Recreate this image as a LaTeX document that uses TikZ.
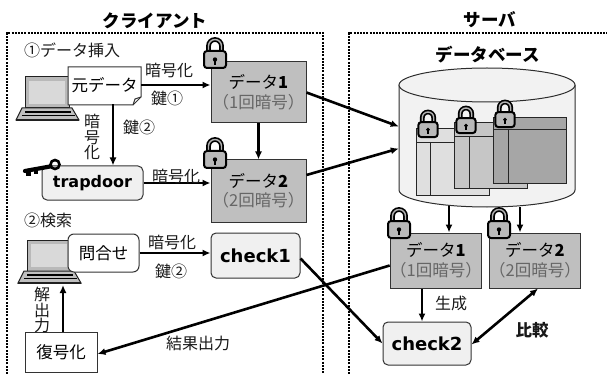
\documentclass[tikz,border=0pt]{standalone}
\usepackage{fontspec}
\setmainfont{Noto Sans CJK JP}
\newfontfamily\dvs{DejaVu Sans}
\usetikzlibrary{arrows.meta}

\tikzset{
  frame/.style={line width=1.2pt, dash pattern=on 2pt off 1.2pt},
  arr/.style={line width=2.6pt, -{Latex[length=8pt,width=7pt]}},
  dblarr/.style={line width=2.6pt, {Latex[length=8pt,width=7pt]}-{Latex[length=8pt,width=7pt]}},
  lbl/.style={font=\fontsize{16}{15.5}\selectfont, inner sep=0, text=black!90},
  head/.style={font=\fontsize{17.5}{19}\selectfont\bfseries, inner sep=0},
  databox/.style={draw=gray!40!black, fill=gray!50, line width=1pt, align=center,
    inner sep=0, font=\fontsize{16.5}{19.5}\selectfont},
  rbox/.style={draw=gray!40!black, fill=gray!12, rounded corners=5pt, line width=1pt, inner sep=0},
  wbox/.style={draw=gray!40!black, fill=white, line width=1pt, inner sep=0,
    font=\fontsize{16.5}{17}\selectfont},
  chk/.style={rbox, font=\dvs\bfseries\fontsize{18}{20}\selectfont},
  pics/padlock/.style={code={
    \draw[line width=4.8pt] (-6.5,0) -- (-6.5,-6) arc[start angle=180,end angle=360,radius=6.5] -- (6.5,0);
    \draw[line width=1.4pt, gray!60] (-6.5,0) -- (-6.5,-6) arc[start angle=180,end angle=360,radius=6.5] -- (6.5,0);
    \draw[fill=gray!55, line width=2pt, rounded corners=3pt] (-11,-1) rectangle (11,16);
    \fill (0,7.5) circle (2.2); \fill (-1.1,7.5) rectangle (1.1,13);
  }},
  pics/laptop/.style={code={
    \draw[fill=gray!55, draw=gray!25!black, line width=1pt] (0,0) rectangle (44,31);
    \fill[gray!30] (4,4) rectangle (40,27);
    \draw[fill=gray!50, draw=gray!25!black, line width=1pt] (-3,31) -- (47,31) -- (54,43) -- (-9,43) -- cycle;
    \draw[line width=1.3pt] (0,35) -- (46,35);
    \draw[line width=1.3pt] (-3,38.5) -- (50,38.5);
    \fill[gray!25!black] (-9,42) rectangle (54,44);
  }}
}

\begin{document}
\begin{tikzpicture}[x=1pt,y=-1pt]
\useasboundingbox (0,0) rectangle (607,374);

% client and server areas
\draw[frame] (7,374) -- (7,33) -- (323,33) -- (323,374);
\draw[frame] (349,374) -- (349,33) -- (607,33);
\node[head] (tcl) at (155,21) {クライアント};
\node[head] (tsv) at (490,20) {サーバ};
\node[head] (tdb) at (488,55) {データベース};

\node[lbl, anchor=west] (s1) at (24,50) {①データ挿入};
\node[lbl, anchor=west] (s2) at (24,220) {②検索};

% laptops
\pic at (25,77) {laptop};
\pic at (27,240) {laptop};
\coordinate (lap2) at (63,285);

% original data sheet with folded corner
\draw[fill=white, draw=gray!40!black, line width=1pt]
  (68,67) -- (141,67) -- (141,97) -- (133,105) -- (68,105) -- cycle;
\draw[draw=gray!40!black, line width=1pt] (133,105) -- (135,99) -- (141,97);
\node[font=\fontsize{16.5}{17}\selectfont, minimum width=73pt, minimum height=38pt, inner sep=0]
  (doc) at (104.5,85) {元データ};

% client side boxes
\node[databox, minimum width=95pt, minimum height=61pt] (data1) at (258.5,92.5)
  {データ\textbf{1}\\{\color{gray!80!black}（1回暗号）}};
\node[databox, minimum width=95pt, minimum height=62pt] (data2) at (258.5,191)
  {データ\textbf{2}\\{\color{gray!80!black}（2回暗号）}};
\node[rbox, font=\dvs\bfseries\fontsize{16}{18}\selectfont, minimum width=101pt, minimum height=34pt]
  (trap) at (92.5,183) {trapdoor};
\node[wbox, rounded corners=6pt, minimum width=71pt, minimum height=38pt] (query) at (103.5,253) {問合せ};
\node[chk, minimum width=89pt, minimum height=45pt] (check1) at (255.5,255.5) {check1};
\node[wbox, minimum width=72pt, minimum height=40pt] (dec) at (61,352) {復号化};

% key of the trapdoor
\draw[line width=2.6pt] (55,164.5) circle (4.5);
\draw[line width=4.2pt, line cap=round] (50,166.5) -- (25,171);
\fill (26,169) rectangle (31,176);
\fill (34,168) rectangle (37.5,174);

% database cylinder
\draw[fill=gray!10, draw=gray!35!black, line width=1pt]
  (399,85) -- (399,190) arc[start angle=180,end angle=0,x radius=88,y radius=17] -- (575,85);
\draw[fill=gray!10, draw=gray!35!black, line width=1pt] (487,85) ellipse [x radius=88, y radius=17];
\node[minimum width=176pt, minimum height=139pt, inner sep=0] (db) at (487,137.5) {};

% stored tables
\draw[fill=gray!25, draw=gray!30!black, line width=0.8pt] (416,128) rectangle (489,195);
\draw[gray!30!black, line width=0.8pt] (416,142) -- (489,142) (430,142) -- (430,195);
\draw[fill=gray!45, draw=gray!30!black, line width=0.8pt] (454,122) rectangle (527,188);
\draw[gray!30!black, line width=0.8pt] (454,136) -- (527,136) (469,136) -- (469,188);
\draw[fill=gray!70, draw=gray!30!black, line width=0.8pt] (493,117) rectangle (566,183);
\draw[gray!30!black, line width=0.8pt] (493,129) -- (566,129) (508,129) -- (508,183);
\pic[scale=0.88] at (428,123) {padlock};
\pic[scale=0.88] at (466,119) {padlock};
\pic[scale=0.88] at (505,113) {padlock};

% server side boxes
\node[databox, minimum width=82pt, minimum height=55pt] (sdata1) at (436,260.5)
  {データ\textbf{1}\\{\color{gray!80!black}（1回暗号）}};
\node[databox, minimum width=84pt, minimum height=55pt] (sdata2) at (535,260.5)
  {データ\textbf{2}\\{\color{gray!80!black}（2回暗号）}};
\node[chk, minimum width=88pt, minimum height=43pt] (check2) at (427,343.5) {check2};

% locks on encrypted data
\pic at (215,52) {padlock};
\pic at (215,152) {padlock};
\pic at (399,222) {padlock};
\pic at (499,222) {padlock};

% insertion flow
\draw[arr] (doc.east) -- (doc.east -| data1.west);
\node[lbl] (l1) at (169,70) {暗号化};
\node[lbl] (l2) at (167,98) {鍵①};
\draw[arr] ([xshift=8.5pt]doc.south) -- ([xshift=8.5pt]doc.south |- trap.north);
\node[lbl, align=center] (l3) at (92,137) {暗\\号\\化};
\node[lbl] (l4) at (139,127) {鍵②};
\draw[arr] (trap.east) -- (trap.east -| data2.west);
\node[lbl] (l5) at (176,176) {暗号化};
\draw[arr] (data1.south) -- (data2.north);
\draw[arr] (data1.east) -- ([yshift=11pt]db.west);
\draw[arr] ([yshift=16pt]data2.east) -- ([yshift=-11pt]db.west);

% search flow
\draw[arr] (query.east) -- (query.east -| check1.west);
\node[lbl] (l6) at (172,242) {暗号化};
\node[lbl] (l7) at (171,271) {鍵②};
\coordinate (dbo1) at (449,206);
\coordinate (dbo2) at (520,207);
\draw[arr] (dbo1) -- (dbo1 |- sdata1.north);
\draw[arr] (dbo2) -- (dbo2 |- sdata2.north);
\draw[arr] ([xshift=-14pt]sdata1.south) -- ([xshift=-14pt]sdata1.south |- check2.north);
\node[lbl] (l8) at (451,303) {生成};
\draw[dblarr] ([yshift=-1pt]check2.east) -- ([xshift=3pt]sdata2.south);
\node[lbl, font=\fontsize{16.5}{16}\selectfont\bfseries] (l9) at (532,330) {比較};
\draw[arr] ([yshift=-3pt]check1.east) -- (check2.west);
\draw[arr] ([yshift=-5pt]sdata1.west) -- ([yshift=-2pt]dec.east);
\node[lbl] (l10) at (198,343) {結果出力};
\draw[arr] ([xshift=2pt]dec.north) -- (lap2);
\node[lbl, align=center] (l11) at (42,310) {解\\出\\力};
\end{tikzpicture}
\end{document}
